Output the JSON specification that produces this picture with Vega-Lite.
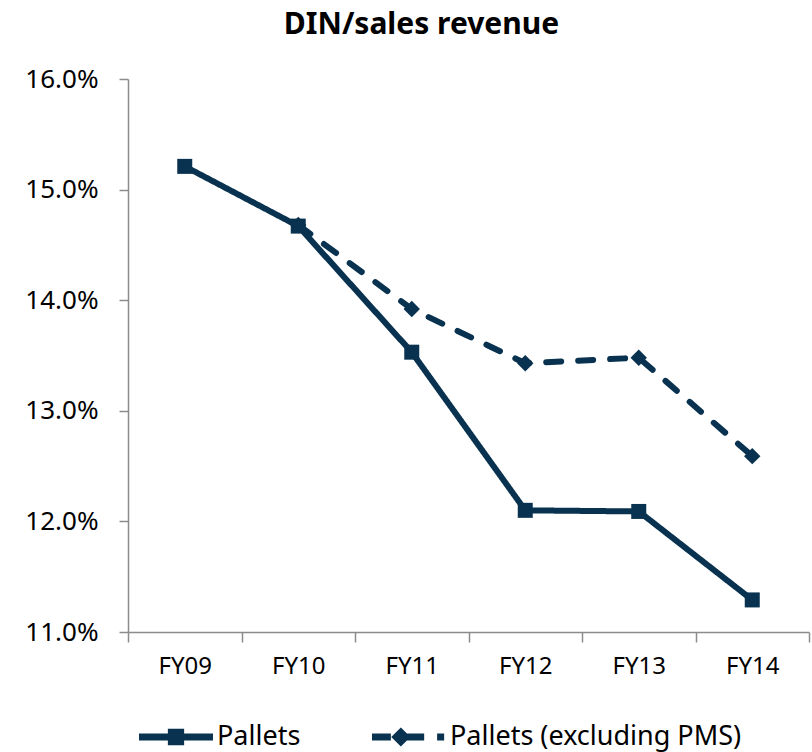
{
  "$schema": "https://vega.github.io/schema/vega-lite/v6.json",
  "autosize": "none",
  "width": 681,
  "height": 553,
  "padding": {"left": 128, "top": 79, "right": 3, "bottom": 120},
  "background": "white",
  "config": {
    "font": "Noto Sans",
    "view": {"stroke": null}
  },
  "title": {
    "text": "DIN/sales revenue",
    "fontSize": 30,
    "fontWeight": "bold",
    "color": "black",
    "anchor": "middle",
    "frame": "group",
    "baseline": "alphabetic",
    "offset": 2,
    "dx": -47
  },
  "data": {
    "values": [
      {"year": "FY09", "series": "Pallets", "value": 0.1521},
      {"year": "FY10", "series": "Pallets", "value": 0.1467},
      {"year": "FY11", "series": "Pallets", "value": 0.1353},
      {"year": "FY12", "series": "Pallets", "value": 0.1210},
      {"year": "FY13", "series": "Pallets", "value": 0.1209},
      {"year": "FY14", "series": "Pallets", "value": 0.1129},
      {"year": "FY10", "series": "Pallets (excluding PMS)", "value": 0.1468},
      {"year": "FY11", "series": "Pallets (excluding PMS)", "value": 0.1392},
      {"year": "FY12", "series": "Pallets (excluding PMS)", "value": 0.1343},
      {"year": "FY13", "series": "Pallets (excluding PMS)", "value": 0.1348},
      {"year": "FY14", "series": "Pallets (excluding PMS)", "value": 0.1259}
    ]
  },
  "encoding": {
    "x": {
      "field": "year",
      "type": "nominal",
      "bandPosition": 0.5,
      "scale": {"type": "band", "paddingInner": 0, "paddingOuter": 0},
      "axis": {
        "title": null,
        "labelAngle": 0,
        "labelFontSize": 24,
        "labelColor": "black",
        "tickBand": "extent",
        "tickSize": 10,
        "tickColor": "#8c8c8c",
        "tickWidth": 1.5,
        "domainColor": "#8c8c8c",
        "domainWidth": 1.5,
        "labelPadding": 12,
        "grid": false
      }
    },
    "y": {
      "field": "value",
      "type": "quantitative",
      "scale": {"domain": [0.11, 0.16], "nice": false, "zero": false},
      "axis": {
        "title": null,
        "format": ".1%",
        "values": [0.11, 0.12, 0.13, 0.14, 0.15, 0.16],
        "labelFontSize": 26,
        "labelColor": "black",
        "tickSize": 9,
        "tickColor": "#8c8c8c",
        "tickWidth": 1.5,
        "domainColor": "#8c8c8c",
        "domainWidth": 1.5,
        "labelPadding": 21,
        "grid": false
      }
    }
  },
  "layer": [
    {
      "mark": {"type": "line", "color": "#08324f", "strokeWidth": 6, "strokeCap": "round", "strokeJoin": "round"},
      "encoding": {
        "detail": {"field": "series"},
        "strokeDash": {
          "field": "series",
          "type": "nominal",
          "scale": {"domain": ["Pallets", "Pallets (excluding PMS)"], "range": [[1, 0], [15, 17]]},
          "legend": null
        }
      }
    },
    {
      "mark": {"type": "point", "filled": true, "opacity": 1, "color": "#08324f"},
      "encoding": {
        "shape": {
          "field": "series",
          "type": "nominal",
          "scale": {"domain": ["Pallets", "Pallets (excluding PMS)"], "range": ["square", "diamond"]},
          "legend": null
        },
        "size": {
          "field": "series",
          "type": "nominal",
          "scale": {"domain": ["Pallets", "Pallets (excluding PMS)"], "range": [225, 270]},
          "legend": null
        }
      }
    },
    {
      "mark": {"type": "point", "filled": true, "opacity": 0, "color": "#08324f"},
      "encoding": {
        "shape": {
          "field": "series",
          "type": "nominal",
          "scale": {
            "domain": ["Pallets", "Pallets (excluding PMS)"],
            "range": [
              "M-1,-0.095H1V0.095H-1Z M-0.22,-0.22H0.22V0.22H-0.22Z",
              "M-1,-0.095H-0.49V0.095H-1Z M-0.22,-0.26L0.04,0L-0.22,0.26L-0.48,0Z M-0.05,-0.095H0.41V0.095H-0.05Z M0.76,-0.095H0.95V0.095H0.76Z"
            ]
          },
          "legend": {
            "title": null,
            "orient": "none",
            "direction": "horizontal",
            "legendX": 11,
            "legendY": 621,
            "symbolSize": 5476,
            "symbolOpacity": 1,
            "symbolFillColor": "#08324f",
            "symbolStrokeWidth": 0,
            "labelFontSize": 27,
            "labelColor": "black",
            "labelOffset": 4,
            "columnPadding": 71,
            "padding": 0,
            "labelLimit": 400
          }
        }
      }
    }
  ],
  "resolve": {"scale": {"shape": "independent", "size": "independent"}}
}
